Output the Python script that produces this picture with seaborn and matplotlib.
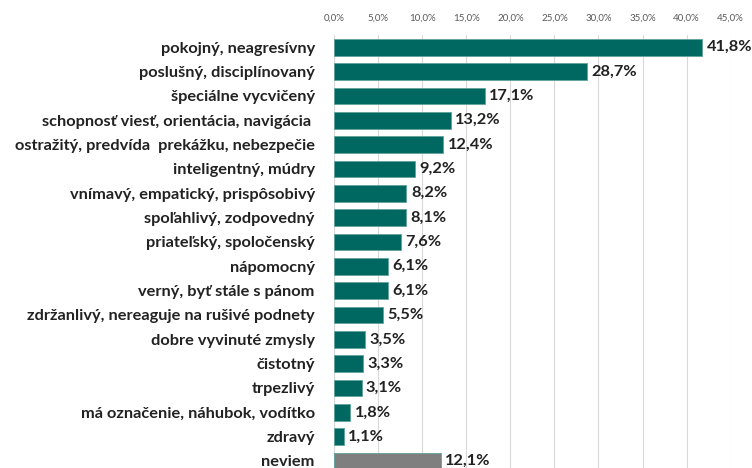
import matplotlib.pyplot as plt
import pandas as pd
import seaborn as sns

# Data
categories = [
    "pokojný, neagresívny",
    "poslušný, disciplínovaný",
    "špeciálne vycvičený",
    "schopnosť viesť, orientácia, navigácia ",
    "ostražitý, predvída  prekážku, nebezpečie",
    "inteligentný, múdry",
    "vnímavý, empatický, prispôsobivý",
    "spoľahlivý, zodpovedný",
    "priateľský, spoločenský",
    "nápomocný",
    "verný, byť stále s pánom",
    "zdržanlivý, nereaguje na rušivé podnety",
    "dobre vyvinuté zmysly",
    "čistotný",
    "trpezlivý",
    "má označenie, náhubok, vodítko",
    "zdravý",
    "neviem",
]
values = [41.8, 28.7, 17.1, 13.2, 12.4, 9.2, 8.2, 8.1, 7.6, 6.1, 6.1, 5.5,
          3.5, 3.3, 3.1, 1.8, 1.1, 12.1]
x_ticks = [0, 5, 10, 15, 20, 25, 30, 35, 40, 45]

teal = "#006861"
grey = "#7f7f7f"
colors = [teal] * (len(categories) - 1) + [grey]

df = pd.DataFrame({"category": categories, "value": values})

sns.set_style("white")
plt.rcParams["font.family"] = ["Lato", "DejaVu Sans"]

fig = plt.figure(figsize=(7.52, 4.68), dpi=100)
ax = fig.add_axes([0.4445, -0.011, 0.527, 0.936])

sns.barplot(data=df, y="category", x="value", hue="category",
            palette=colors, saturation=1, legend=False, width=0.68,
            edgecolor="#5fa39d", linewidth=0.6, ax=ax, zorder=3)

ax.set_xlim(0, 45)
ax.set_ylim(len(categories) - 0.5, -0.5)
ax.set_xticks(x_ticks)
ax.set_xticklabels([f"{t:.1f}%".replace(".", ",") for t in x_ticks],
                   fontsize=7, color="#595959")
ax.xaxis.tick_top()
ax.tick_params(axis="x", length=0, pad=9)
ax.tick_params(axis="y", length=0, pad=14)
for lbl in ax.get_yticklabels():
    lbl.set_fontsize(11.8)
    lbl.set_fontweight("bold")
    lbl.set_color("#222222")

ax.set_xlabel("")
ax.set_ylabel("")
ax.grid(True, axis="x", color="#d9d9d9", linewidth=0.8, zorder=0)
for side in ["top", "right", "bottom"]:
    ax.spines[side].set_visible(False)
ax.spines["left"].set_color("#d9d9d9")
ax.spines["left"].set_linewidth(0.8)

# Value labels to the right of each bar
for i, v in enumerate(values):
    ax.text(v + 0.5, i, f"{v:.1f}%".replace(".", ","), va="center",
            ha="left", fontsize=11.8, fontweight="bold", color="#222222")

fig.savefig("out.png", dpi=100)
